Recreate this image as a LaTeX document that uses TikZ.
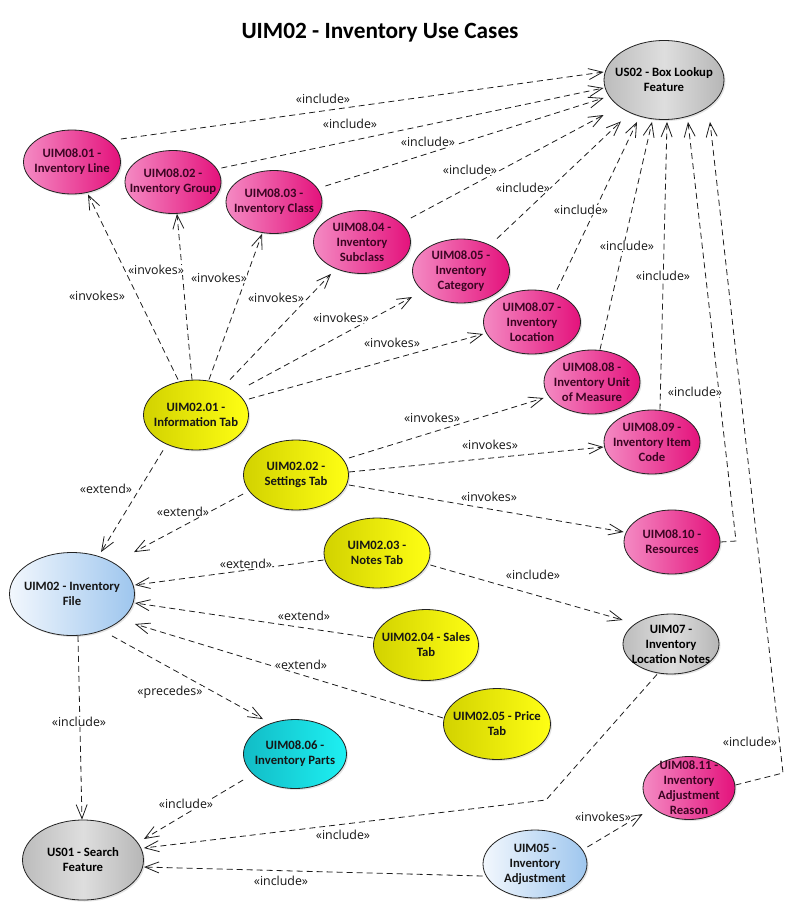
\documentclass[tikz,border=0pt]{standalone}
\usepackage{fontspec}
\setmainfont{Carlito}
\newfontfamily\lblfont{Open Sans}
\usetikzlibrary{shapes.geometric,arrows.meta,shadows}
\definecolor{outl}{RGB}{35,35,35}
\definecolor{linec}{RGB}{30,30,30}
\definecolor{pinkL}{RGB}{244,138,195}
\definecolor{pinkR}{RGB}{228,18,124}
\definecolor{pinkT}{RGB}{60,5,35}
\definecolor{yelL}{RGB}{210,210,0}
\definecolor{yelR}{RGB}{255,255,20}
\definecolor{bluL}{RGB}{242,247,253}
\definecolor{bluR}{RGB}{158,198,238}
\definecolor{cyaL}{RGB}{18,188,198}
\definecolor{cyaR}{RGB}{30,240,242}
\definecolor{graL}{RGB}{188,188,188}
\definecolor{graM}{RGB}{222,222,222}
\definecolor{graR}{RGB}{182,182,182}
\definecolor{darkT}{RGB}{22,22,22}
\newcommand{\mkuc}[7]{%
  \node[ucbase,#1,minimum width=#5pt,minimum height=#6pt] (#3) at (#4) {};
  \node[uctext,text=#2] (#3t) at (#3) {#7};}
\begin{document}
\begin{tikzpicture}[x=1pt,y=-1pt,
  ucbase/.style={ellipse, draw=outl, line width=0.8pt, inner sep=0pt,
    drop shadow={shadow xshift=1.5pt,shadow yshift=-1.5pt,opacity=0.22}},
  pinkuc/.style={left color=pinkL, right color=pinkR},
  yellowuc/.style={left color=yelL, right color=yelR},
  blueuc/.style={left color=bluL, right color=bluR},
  cyanuc/.style={left color=cyaL, right color=cyaR},
  grayuc/.style={left color=graL, right color=graR, middle color=graM},
  uctext/.style={font=\bfseries\fontsize{12.7}{15}\selectfont, align=center, inner sep=0pt},
  dep/.style={draw=linec, line width=0.8pt, dash pattern=on 6pt off 4pt,
    -{Straight Barb[length=14pt,width=11pt]}},
  lbl/.style={font=\lblfont\fontsize{12.4}{14}\selectfont, text=darkT, fill=white, inner sep=0pt}]
\fill[white] (0,0) rectangle (793,910);
\useasboundingbox (0,0) rectangle (793,910);

\node[font=\bfseries\fontsize{23.3}{28}\selectfont, anchor=base, text=black] (title) at (380,38) {UIM02 - Inventory Use Cases};

% use cases
\mkuc{grayuc}{black}{b2}{664,80}{120}{79}{US02 - Box Lookup\\Feature}
\mkuc{pinkuc}{pinkT}{a1}{72,162}{97}{64}{UIM08.01 -\\Inventory Line}
\mkuc{pinkuc}{pinkT}{a2}{173,182}{96}{63}{UIM08.02 -\\Inventory Group}
\mkuc{pinkuc}{pinkT}{a3}{274,202}{96}{63}{UIM08.03 -\\Inventory Class}
\mkuc{pinkuc}{pinkT}{a4}{362,242}{97}{63}{UIM08.04 -\\Inventory\\Subclass}
\mkuc{pinkuc}{pinkT}{a5}{461,271}{97}{64}{UIM08.05 -\\Inventory\\Category}
\mkuc{pinkuc}{pinkT}{a7}{532,322}{97}{64}{UIM08.07 -\\Inventory\\Location}
\mkuc{pinkuc}{pinkT}{a8}{592,382}{96}{64}{UIM08.08 -\\Inventory Unit\\of Measure}
\mkuc{pinkuc}{pinkT}{a9}{652,442}{96}{64}{UIM08.09 -\\Inventory Item\\Code}
\mkuc{pinkuc}{pinkT}{a10}{672,542}{96}{64}{UIM08.10 -\\Resources}
\mkuc{pinkuc}{pinkT}{a11}{689,788}{92}{63}{UIM08.11 -\\Inventory\\Adjustment\\Reason}
\mkuc{yellowuc}{darkT}{t1}{196,415}{105}{70}{UIM02.01 -\\Information Tab}
\mkuc{yellowuc}{darkT}{t2}{296,475}{105}{70}{UIM02.02 -\\Settings Tab}
\mkuc{yellowuc}{darkT}{t3}{377,553}{106}{70}{UIM02.03 -\\Notes Tab}
\mkuc{yellowuc}{darkT}{t4}{426,645}{105}{71}{UIM02.04 - Sales\\Tab}
\mkuc{yellowuc}{darkT}{t5}{497,724}{107}{71}{UIM02.05 - Price\\Tab}
\mkuc{blueuc}{darkT}{f}{72,594}{125}{83}{UIM02 - Inventory\\File}
\mkuc{grayuc}{black}{u7}{671,644}{96}{60}{UIM07 -\\Inventory\\Location Notes}
\mkuc{cyanuc}{darkT}{a6}{295,754}{103}{69}{UIM08.06 -\\Inventory Parts}
\mkuc{blueuc}{darkT}{u5}{535,864}{104}{68}{UIM05 -\\Inventory\\Adjustment}
\mkuc{grayuc}{black}{s1}{83,860}{121}{80}{US01 - Search\\Feature}

% bend points
\coordinate (k10) at (736,541);
\coordinate (k11) at (783,773);
\coordinate (k7) at (546,800);

% include to US02
\draw[dep] ([yshift=23pt]a1.east) -- ([yshift=8pt]b2.west);
\draw[dep] ([yshift=14pt]a2.east) -- ([yshift=-8pt]b2.west);
\draw[dep] ([xshift=3pt,yshift=16pt]a3.east) -- ([yshift=-18pt]b2.west);
\draw[dep] ([yshift=24pt]a4.east) -- ([yshift=-35pt]b2.west);
\draw[dep] ([xshift=36pt]a5.north) -- ([xshift=-43pt,yshift=-1.5pt]b2.south);
\draw[dep] ([xshift=25pt]a7.north) -- ([xshift=-27pt,yshift=-2pt]b2.south);
\draw[dep] ([xshift=8pt]a8.north) -- ([xshift=-12pt,yshift=-2pt]b2.south);
\draw[dep] ([xshift=8pt]a9.north) -- ([xshift=3pt,yshift=-2pt]b2.south);
\draw[dep] (a10.east) -- (k10) -- ([xshift=24pt,yshift=-2pt]b2.south);
\draw[dep] ([yshift=3pt]a11.east) -- (k11) -- ([xshift=46pt,yshift=-2pt]b2.south);

% invokes from Information Tab
\draw[dep] ([xshift=-18pt]t1.north) -- ([xshift=16pt]a1.south);
\draw[dep] ([xshift=-4pt]t1.north) -- ([xshift=4pt]a2.south);
\draw[dep] ([xshift=13pt]t1.north) -- ([xshift=-12pt]a3.south);
\draw[dep] ([xshift=34pt]t1.north) -- ([xshift=-31pt]a4.south);
\draw[dep] ([yshift=30pt]t1.east) -- ([yshift=-26pt]a5.west);
\draw[dep] ([yshift=16pt]t1.east) -- ([yshift=-12pt]a7.west);
% invokes from Settings Tab
\draw[dep] ([yshift=17pt]t2.east) -- ([yshift=-16pt]a8.west);
\draw[dep] ([yshift=3pt]t2.east) -- ([yshift=-5pt]a9.west);
\draw[dep] ([yshift=-10pt]t2.east) -- ([yshift=10pt]a10.west);
% extend
\draw[dep] ([xshift=-33pt]t1.south) -- ([xshift=29pt]f.north);
\draw[dep] ([yshift=-19pt]t2.west) -- ([xshift=62pt]f.north);
\draw[dep] ([yshift=-7pt]t3.west) -- ([yshift=9pt]f.east);
\draw[dep] ([yshift=7pt]t4.west) -- ([yshift=-9pt]f.east);
\draw[dep] ([yshift=6pt]t5.west) -- ([yshift=-30pt]f.east);
% include
\draw[dep] ([yshift=-12pt]t3.east) -- ([yshift=24pt]u7.west);
\draw[dep] ([xshift=6pt]f.south) -- ([xshift=-1pt]s1.north);
\draw[dep] ([yshift=-26pt]a6.west) -- ([yshift=21pt]s1.east);
\draw[dep] ([xshift=-14pt]u7.south) -- (k7) -- ([yshift=12pt]s1.east);
\draw[dep] ([yshift=-12pt]u5.west) -- ([yshift=-7pt]s1.east);
% precedes
\draw[dep] ([xshift=40pt]f.south) -- ([xshift=-32pt]a6.north);
% invokes adjustment reason
\draw[dep] ([yshift=17pt]u5.east) -- ([yshift=-26pt]a11.west);

% labels
\node[lbl] (l1) at (323,99) {«include»};
\node[lbl] (l2) at (350,124) {«include»};
\node[lbl] (l3) at (428,142) {«include»};
\node[lbl] (l4) at (470,170) {«include»};
\node[lbl] (l5) at (523,188) {«include»};
\node[lbl] (l6) at (581,210) {«include»};
\node[lbl] (l7) at (627,246) {«include»};
\node[lbl] (l8) at (663,276) {«include»};
\node[lbl] (l9) at (695,392) {«include»};
\node[lbl] (l10) at (750,742) {«include»};
\node[lbl] (i1) at (97,296) {«invokes»};
\node[lbl] (i2) at (156,270) {«invokes»};
\node[lbl] (i3) at (219,278) {«invokes»};
\node[lbl] (i4) at (276,298) {«invokes»};
\node[lbl] (i5) at (341,318) {«invokes»};
\node[lbl] (i6) at (392,343) {«invokes»};
\node[lbl] (i7) at (432,418) {«invokes»};
\node[lbl] (i8) at (490,445) {«invokes»};
\node[lbl] (i9) at (489,497) {«invokes»};
\node[lbl] (i10) at (603,817) {«invokes»};
\node[lbl] (e1) at (106,489) {«extend»};
\node[lbl] (e2) at (183,512) {«extend»};
\node[lbl] (e3) at (246,564) {«extend»};
\node[lbl] (e4) at (304,616) {«extend»};
\node[lbl] (e5) at (301,665) {«extend»};
\node[lbl] (n1) at (533,575) {«include»};
\node[lbl] (n2) at (79,722) {«include»};
\node[lbl] (n3) at (186,804) {«include»};
\node[lbl] (n4) at (343,835) {«include»};
\node[lbl] (n5) at (281,881) {«include»};
\node[lbl] (p1) at (170,692) {«precedes»};
\end{tikzpicture}
\end{document}
